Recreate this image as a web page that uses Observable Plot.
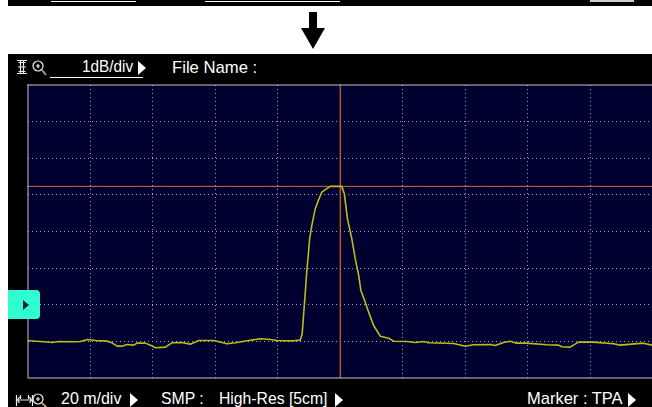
<!DOCTYPE html>
<html><head><meta charset="utf-8">
<script src="https://cdn.jsdelivr.net/npm/d3@7"></script>
<script src="https://cdn.jsdelivr.net/npm/@observablehq/plot@0.6"></script>
<style>
html,body{margin:0;padding:0;background:#fff;width:652px;height:407px;overflow:hidden}
#stage{position:relative;width:652px;height:407px}
#stage>*{position:absolute}
#plot svg{display:block;background:transparent;position:absolute;left:0;top:0}
.t{color:#fff;font:17px/16px "Liberation Sans",sans-serif;white-space:pre;transform-origin:left top}
.b{background:#000}
</style></head><body>
<div id="stage">
  <div class="b" style="left:8px;top:0;width:644px;height:6px"></div>
  <div style="left:51px;top:1px;width:85px;height:1px;background:#fff"></div>
  <div style="left:205px;top:1px;width:135px;height:1px;background:#fff"></div>
  <div style="left:590px;top:0;width:44px;height:2px;background:#ccc"></div>
  <div class="b" style="left:8px;top:54px;width:644px;height:353px"></div>
  <svg style="left:296px;top:10px" width="34" height="42"><path d="M13 2h8v16h8L17 39 5 18h8z" fill="#000"/></svg>
  <div id="plot" style="left:0;top:0;width:652px;height:407px"></div>
  <div style="left:8px;top:290px;width:32px;height:29px;background:#2fffd0;border-radius:0 4px 4px 0"></div>
  <svg style="left:22px;top:299px" width="8" height="12"><path d="M1 1l6 5-6 5z" fill="#123"/></svg>
  <svg style="left:16px;top:58px" width="32" height="20"><g fill="none" stroke="#eee" stroke-width="1.2"><path d="M1 2.500h10M1 15.500h10M2.500 4.500h7M2.500 13.500h7M4.500 2.500v13M7.500 2.500v13M2 9h8"/><circle cx="22" cy="8" r="5"/><path d="M20 8h4M22 6v4"/></g><path d="M26 12l4 5" stroke="#b09880" stroke-width="2"/></svg>
  <svg style="left:15px;top:392px" width="34" height="15"><g fill="none" stroke="#eee" stroke-width="1.2"><path d="M1.500 3v11M17.500 3v11M1.500 8h16M4.500 5l-2 3 2 3M14.500 5l2 3-2 3M5.500 3v4M13.500 3v4"/><circle cx="23" cy="7" r="5"/><path d="M21 7h4M23 5v4"/></g><path d="M27 11l5 5" stroke="#b09880" stroke-width="2"/></svg>
  <div style="left:50px;top:77px;width:93px;height:1px;background:#fff"></div>
  <div id="labels"></div>
</div>
<script>
const distance = [0.2,5.1,7.7,9.9,15.2,16.8,19.1,21.6,25.3,26.9,28.5,30.1,31.7,33.9,34.9,37.6,39.2,40.8,44,46.1,49.3,52,54.7,59.5,63.7,66.4,70.7,74.4,77.6,79.7,85,87.2,87.8,88.2,88.7,89.3,89.8,90.2,90.9,92,93,94.1,95.7,96.8,100.5,101.3,102.3,103.7,104.8,105.9,106.6,108,109.1,110.7,112.8,115.5,117.1,121.3,124,126.7,128.3,136.3,140,142.7,148,149.6,152.3,154.4,156.5,159.7,166.1,169.9,170.9,173.6,176.3,181.1,187.5,189.6,197,199.9];
const level = [1.016,0.988,0.97,0.997,0.988,0.997,1.052,1.025,1.007,0.961,0.87,0.87,0.915,0.897,0.952,0.952,0.897,0.825,0.843,0.961,0.97,0.924,1.025,1.025,0.933,0.961,1.025,1.07,1.052,1.025,1.015,1.033,1.207,1.661,2.208,2.937,3.393,3.803,4.167,4.623,4.85,5.077,5.169,5.232,5.232,5.033,4.35,3.803,3.257,2.8,2.391,2.071,1.798,1.434,1.142,1.087,1.005,0.997,0.97,0.997,0.961,0.943,0.869,0.907,0.915,0.888,0.97,1.005,0.951,0.951,0.907,0.897,0.852,0.843,0.979,0.979,0.934,0.897,0.951,0.897];
const gridX = [20,40,60,80,100,120,140,160,180];
const gridY = [1,2,3,4,5,6,7];
const markerX = [100];
const markerY = [5.232];
const labelText = ["1dB/div","File Name :","20 m/div","SMP :","High-Res [5cm]","Marker : TPA"];
const labelLeft = [82,172,61,161,219,527];
const labelTop = [59,60,391,391,391,391];
const labelScale = [0.9,0.98,0.94,0.93,0.925,0.97];
const triangles = [[138,61],[130,393],[335,393],[628,393]];

const trace = distance.map((d,i)=>({d,v:level[i]}));
const chart = Plot.plot({
  width:652,height:407,
  marginLeft:27.5,marginRight:0,marginTop:84.5,marginBottom:29.5,
  x:{domain:[0,200],axis:null},
  y:{domain:[0,8],axis:null},
  style:{background:"transparent"},
  marks:[
    Plot.frame({fill:"#000030",stroke:null}),
    Plot.ruleX(gridX,{stroke:"#a8a8c4",strokeWidth:1,strokeDasharray:"1,3",shapeRendering:"crispEdges"}),
    Plot.ruleY(gridY,{stroke:"#a8a8c4",strokeWidth:1,strokeDasharray:"1,3",shapeRendering:"crispEdges"}),
    Plot.ruleY(markerY,{stroke:"#cf6a3a",strokeWidth:1}),
    Plot.ruleX(markerX,{stroke:"#e0600f",strokeWidth:1.2}),
    Plot.line(trace,{x:"d",y:"v",stroke:"#bcbc14",strokeWidth:1.6}),
    Plot.ruleX([0],{stroke:"#c4c4c4",strokeWidth:1}),
    Plot.ruleY([0,8],{stroke:"#c4c4c4",strokeWidth:1})
  ]
});
document.getElementById("plot").appendChild(chart);
const host=document.getElementById("labels");
labelText.forEach((s,i)=>{
  const e=document.createElement("div");
  e.className="t";e.textContent=s;
  e.style.cssText=`position:absolute;left:${labelLeft[i]}px;top:${labelTop[i]}px;transform:scaleX(${labelScale[i]})`;
  host.appendChild(e);
});
triangles.forEach(([l,t])=>{
  const e=document.createElementNS("http://www.w3.org/2000/svg","svg");
  e.setAttribute("width",9);e.setAttribute("height",14);
  e.style.cssText=`position:absolute;left:${l}px;top:${t}px`;
  e.innerHTML='<path d="M0 0l8 7-8 7z" fill="#fff"/>';
  host.appendChild(e);
});
</script>
</body></html>
